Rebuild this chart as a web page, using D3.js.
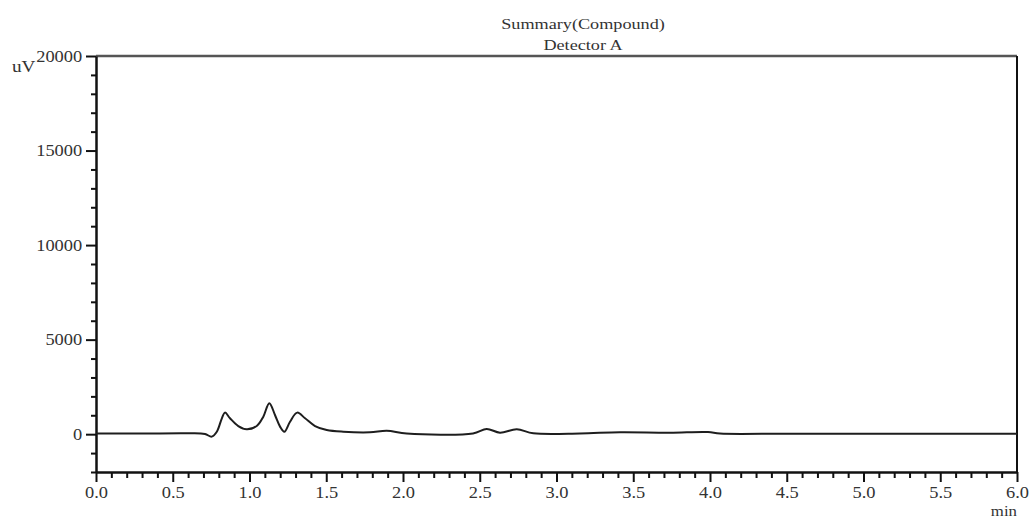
<!DOCTYPE html>
<html>
<head>
    <meta charset="utf-8">
    <title>Summary(Compound)</title>
    <script src="https://d3js.org/d3.v7.min.js"></script>
    <style>
        body { margin: 0; background: #fff; }
        text { font-family: "Liberation Serif", "Times New Roman", serif; fill: #333; }
    </style>
</head>
<body>
    <svg></svg>
    <script>
        // chromatogram trace (min, uV)
        const times = [0, 0.3, 0.61, 0.71, 0.754, 0.787, 0.82, 0.84, 0.873, 0.927, 0.982, 1.047, 1.09, 1.129,
            1.166, 1.199, 1.227, 1.264, 1.311, 1.362, 1.427, 1.503, 1.611, 1.785, 1.894, 2.024, 2.456, 2.545,
            2.632, 2.741, 2.849, 3.153, 3.414, 3.739, 3.987, 4.065, 4.5, 5.0, 5.5, 6.0];
        const signal = [30, 35, 45, 10, -130, 130, 840, 1140, 840, 430, 260, 430, 925, 1640,
            1015, 400, 130, 660, 1140, 840, 430, 220, 130, 100, 185, 40, 40, 275,
            80, 260, 50, 40, 100, 80, 115, 30, 25, 20, 20, 20];

        const xMajor = [0, 0.5, 1, 1.5, 2, 2.5, 3, 3.5, 4, 4.5, 5, 5.5, 6];
        const yMajor = [0, 5000, 10000, 15000, 20000];
        const titleLines = ["Summary(Compound)", "Detector A"];

        const width = 1031;
        const height = 523;

        const svg = d3.select("svg")
            .attr("width", width)
            .attr("height", height);

        const x = d3.scaleLinear().domain([0, 6]).range([96, 1017]);
        const y = d3.scaleLinear().domain([-2000, 20000]).range([472, 56]);

        const xMinor = d3.range(0, 61).map(d => d / 10).filter(d => !xMajor.some(m => Math.abs(m - d) < 1e-9));
        const yMinor = d3.range(-2000, 20001, 1000).filter(d => yMajor.indexOf(d) < 0);

        // frame: top and right borders
        svg.append("line")
            .attr("x1", x(0)).attr("x2", x(6))
            .attr("y1", y(20000)).attr("y2", y(20000))
            .attr("stroke", "#555").attr("stroke-width", 2.5);
        svg.append("line")
            .attr("x1", x(6)).attr("x2", x(6))
            .attr("y1", y(20000)).attr("y2", y(-2000))
            .attr("stroke", "#111").attr("stroke-width", 2);

        // minor ticks
        svg.append("g")
            .attr("transform", "translate(0," + y(-2000) + ")")
            .call(d3.axisBottom(x).tickValues(xMinor).tickSize(6).tickFormat(""))
            .call(g => g.select(".domain").remove())
            .selectAll("line").attr("stroke", "#111").attr("stroke-width", 2);
        svg.append("g")
            .attr("transform", "translate(" + x(0) + ",0)")
            .call(d3.axisLeft(y).tickValues(yMinor).tickSize(5).tickFormat(""))
            .call(g => g.select(".domain").remove())
            .selectAll("line").attr("stroke", "#111").attr("stroke-width", 2);

        // major axes
        const xAxis = svg.append("g")
            .attr("transform", "translate(0," + y(-2000) + ")")
            .call(d3.axisBottom(x).tickValues(xMajor).tickSize(10).tickSizeOuter(0).tickPadding(5)
                .tickFormat(d3.format(".1f")));
        const yAxis = svg.append("g")
            .attr("transform", "translate(" + x(0) + ",0)")
            .call(d3.axisLeft(y).tickValues(yMajor).tickSize(10).tickSizeOuter(0).tickPadding(2)
                .tickFormat(d3.format("d")));

        [xAxis, yAxis].forEach(g => {
            g.select(".domain").attr("stroke", "#111").attr("stroke-width", 2.5);
            g.selectAll(".tick line").attr("stroke", "#111").attr("stroke-width", 2);
            g.selectAll(".tick text")
                .attr("font-size", 16)
                .attr("fill", "#2e2e2e")
                .attr("transform", "scale(1.15,1)");
        });

        // the trace
        const line = d3.line()
            .x((d, i) => x(times[i]))
            .y(d => y(d))
            .curve(d3.curveCatmullRom.alpha(0.5));

        svg.append("path")
            .datum(signal)
            .attr("fill", "none")
            .attr("stroke", "#1e1e1e")
            .attr("stroke-width", 2)
            .attr("d", line);

        // texts
        svg.append("text")
            .attr("transform", "translate(12,72) scale(1.2,1)")
            .attr("font-size", 16)
            .text("uV");
        svg.append("text")
            .attr("transform", "translate(1017,516) scale(1.2,1)")
            .attr("text-anchor", "end")
            .attr("font-size", 14)
            .text("min");

        titleLines.forEach((t, i) => {
            svg.append("text")
                .attr("transform", "translate(583," + (29 + i * 21) + ") scale(1.3,1)")
                .attr("text-anchor", "middle")
                .attr("font-size", 14)
                .text(t);
        });
    </script>
</body>
</html>
